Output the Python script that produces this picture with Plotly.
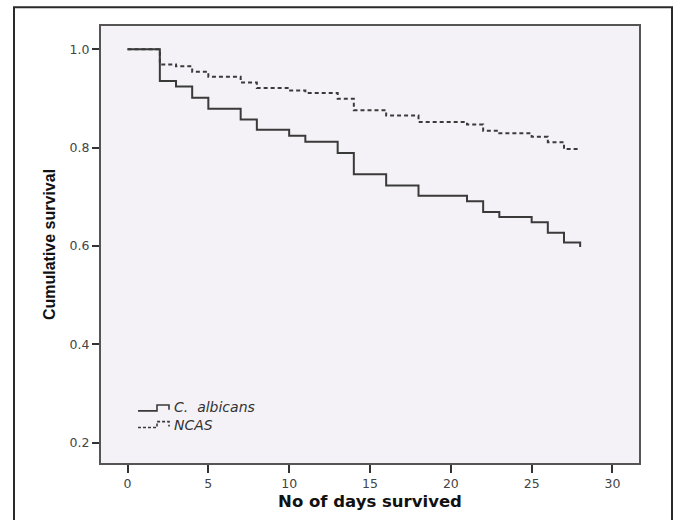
import plotly.graph_objects as go

# Data
days = [0, 2, 3, 4, 5, 7, 8, 10, 11, 13, 14, 16, 18, 21, 22, 23, 25, 26, 27, 28]
surv_albicans = [1.0, 0.935, 0.924, 0.901, 0.879, 0.857, 0.836, 0.824, 0.812, 0.789,
                 0.746, 0.723, 0.702, 0.691, 0.669, 0.659, 0.648, 0.627, 0.607, 0.598]
surv_ncas = [1.0, 0.969, 0.965, 0.954, 0.944, 0.932, 0.921, 0.916, 0.911, 0.899,
             0.876, 0.865, 0.852, 0.847, 0.834, 0.829, 0.822, 0.811, 0.797, 0.797]
series_names = ["C. albicans", "NCAS"]
x_ticks = [0, 5, 10, 15, 20, 25, 30]
y_ticks = [0.2, 0.4, 0.6, 0.8, 1.0]

WIDE = "DejaVu Sans, Verdana, sans-serif"
NARROW = "Liberation Sans, Arial, sans-serif"

fig = go.Figure()
fig.add_trace(go.Scatter(x=days, y=surv_albicans, mode="lines", line_shape="hv",
                         name=series_names[0], line=dict(color="#3a3a3a", width=2),
                         showlegend=False))
fig.add_trace(go.Scatter(x=days, y=surv_ncas, mode="lines", line_shape="hv",
                         name=series_names[1], line=dict(color="#3a3a3a", width=2, dash="4px,3px"),
                         showlegend=False))

W, H = 674, 520
L, R, T, B = 101, 35, 26, 50
pw, ph = W - L - R, H - T - B

def px(xp):
    return (xp - L) / pw

def py(yp):
    return (H - B - yp) / ph

shapes = []
# outer frame
shapes.append(dict(type="rect", xref="paper", yref="paper",
                   x0=px(14), x1=px(672), y0=py(540), y1=py(7),
                   line=dict(color="#2a2a2a", width=2), layer="below"))
# legend step icons
def step_path(y_low, y_high):
    pts = [(138, y_low), (157, y_low), (157, y_high), (169, y_high), (169, y_low - 1)]
    return "M " + " L ".join(f"{px(a):.5f},{py(b):.5f}" for a, b in pts)

shapes.append(dict(type="path", xref="paper", yref="paper", path=step_path(417, 411),
                   line=dict(color="#3a3a3a", width=1.6)))
shapes.append(dict(type="path", xref="paper", yref="paper", path=step_path(434, 428),
                   line=dict(color="#3a3a3a", width=1.6, dash="3px,2px")))

legend_font = dict(family=WIDE, size=14, color="#333333")
annotations = [
    dict(xref="paper", yref="paper", x=px(172), y=py(413.5), xanchor="left", yanchor="middle",
         text="<i>" + series_names[0].replace(" ", "&nbsp; ") + "</i>", showarrow=False,
         font=legend_font),
    dict(xref="paper", yref="paper", x=px(172), y=py(431), xanchor="left", yanchor="middle",
         text="<i>" + series_names[1] + "</i>", showarrow=False, font=legend_font),
]

fig.update_layout(
    width=W, height=H,
    margin=dict(l=L, r=R, t=T, b=B, pad=0),
    paper_bgcolor="white",
    plot_bgcolor="#F4F2F7",
    font=dict(family=WIDE, size=12, color="#333333"),
    shapes=shapes,
    annotations=annotations,
    xaxis=dict(range=[-1.64, 31.64], tickvals=x_ticks, ticks="outside", ticklen=8,
               tickwidth=2, tickcolor="#333333", showgrid=False, zeroline=False,
               showline=True, linecolor="#555555", linewidth=2, mirror=True,
               tickfont=dict(family=WIDE, size=12.5, color="#444444"),
               title=dict(text="<b>No of days survived</b>", standoff=5,
                          font=dict(family=WIDE, size=16.5, color="#111111"))),
    yaxis=dict(range=[0.159, 1.047], tickvals=y_ticks, tickformat=".1f", ticks="outside",
               ticklen=7, tickwidth=2, tickcolor="#333333", showgrid=False, zeroline=False,
               showline=True, linecolor="#555555", linewidth=2, mirror=True,
               tickfont=dict(family=WIDE, size=12.5, color="#444444"),
               title=dict(text="<b>Cumulative survival</b>", standoff=10,
                          font=dict(family=NARROW, size=16, color="#111111"))),
)

fig.write_html("out.html")
